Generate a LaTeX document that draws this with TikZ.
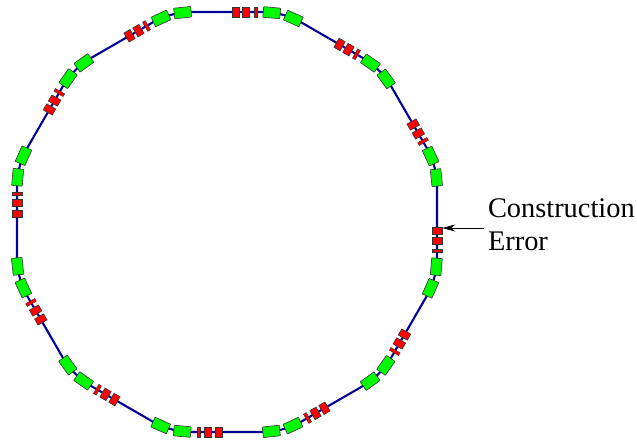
\documentclass[tikz,border=0pt]{standalone}
\usepackage{fontspec}
\setmainfont{Liberation Serif}
\usetikzlibrary{arrows.meta}
\definecolor{ringblue}{RGB}{0,0,150}
\definecolor{quadred}{RGB}{255,0,0}
\definecolor{bendgreen}{RGB}{0,250,0}
\tikzset{
  ring/.style={draw=ringblue,line width=2.1pt,line join=round},
  elem/.style={draw=black!80,line width=0.6pt,inner sep=0pt,outer sep=0pt,transform shape},
  bendbox/.style={elem,fill=bendgreen,minimum width=17pt,minimum height=10.6pt,rounded corners=0.4pt},
  quadbox/.style={elem,fill=quadred,minimum width=7pt,minimum height=10.4pt},
  sextbox/.style={elem,fill=quadred,line width=0.4pt,minimum width=3.2pt,minimum height=10.6pt},
  pointer/.style={draw=black,line width=0.7pt,-{Stealth[length=13pt,width=7pt,inset=4pt]}},
  notetext/.style={inner sep=0pt,outer sep=0pt,align=left,anchor=north west,font=\fontsize{28.4}{33}\selectfont}
}
\begin{document}
\begin{tikzpicture}[x=1pt,y=1pt]
\useasboundingbox (0,0) rectangle (637,-440);
\fill[white] (0,0) rectangle (637,-440);
% ring corner points
\foreach \i in {0,...,11}{
  \begin{scope}[shift={(227,-222)},rotate=-30*\i]
    \coordinate (a\i) at (-45.3,210);
    \coordinate (b\i) at (45.3,210);
  \end{scope}
}
% beam pipe
\foreach \i in {0,...,11}{
  \pgfmathtruncatemacro{\nxt}{mod(\i+1,12)}
  \draw[ring] (a\i) -- (b\i) -- (a\nxt);
}
% magnets of each cell
\foreach \i in {0,...,11}{
  \begin{scope}[shift={(227,-222)},rotate=-30*\i]
    \node[quadbox] (qa\i) at (8.7,210) {};
    \node[quadbox] (qb\i) at (19,210) {};
    \node[sextbox] (s\i) at (28.3,210) {};
    \node[bendbox,rotate=-5] (ga\i) at (44.7,209.3) {};
    \node[bendbox,rotate=-24] (gb\i) at (66.3,203.5) {};
  \end{scope}
}
\node[notetext] (lab) at (488,-198.5) {Construction\\Error};
\coordinate (from) at (484,-228);
\draw[pointer] (from) -- (from -| qa3.north);
\end{tikzpicture}
\end{document}
